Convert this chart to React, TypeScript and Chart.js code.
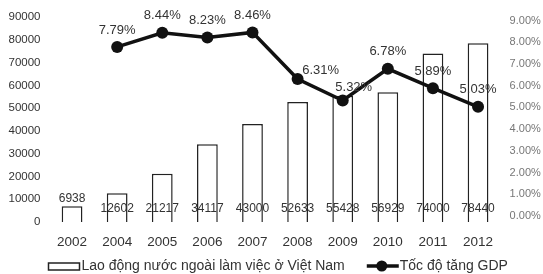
import React, { useEffect, useRef } from "react";
import { Chart, registerables } from "chart.js";

Chart.register(...registerables);

const years = ["2002", "2004", "2005", "2006", "2007", "2008", "2009", "2010", "2011", "2012"];
const workers = [6938, 12602, 21217, 34117, 43000, 52633, 55428, 56929, 74000, 78440];
const gdpGrowth: (number | null)[] = [null, 7.79, 8.44, 8.23, 8.46, 6.31, 5.32, 6.78, 5.89, 5.03];
const rightTicks = [0, 1, 2, 3, 4, 5, 6, 7, 8, 9];
const barLabel = "Lao động nước ngoài làm việc ở Việt Nam";
const lineLabel = "Tốc độ tăng GDP";

const FONT = '"Liberation Sans", Arial, sans-serif';

const labelOffsets: Record<number, [number, number]> = {
  5: [23, -9],
  6: [11, -13],
};

const labelPlugin = {
  id: "customLabels",
  afterDatasetsDraw(chart: any) {
    const ctx = chart.ctx;
    const yL = chart.scales.y;
    ctx.save();
    ctx.textAlign = "center";
    ctx.textBaseline = "middle";
    ctx.fillStyle = "#333";
    ctx.font = `12px ${FONT}`;
    const barMeta = chart.getDatasetMeta(0);
    barMeta.data.forEach((el: any, i: number) => {
      const v = workers[i];
      const y = v < 10000 ? el.y - 8 : yL.getPixelForValue(5700);
      ctx.fillText(String(v), el.x, y);
    });
    ctx.font = `13px ${FONT}`;
    const lineMeta = chart.getDatasetMeta(1);
    lineMeta.data.forEach((el: any, i: number) => {
      const v = gdpGrowth[i];
      if (v == null) return;
      const off = labelOffsets[i] || [0, -17];
      ctx.fillText(v.toFixed(2) + "%", el.x + off[0], el.y + off[1]);
    });
    ctx.restore();
  },
  afterDraw(chart: any) {
    const ctx = chart.ctx;
    const area = chart.chartArea;
    const cy = 266;
    ctx.save();
    ctx.font = `14px ${FONT}`;
    ctx.textBaseline = "middle";
    ctx.textAlign = "left";
    let x = area.left - 1;
    // bar legend box
    ctx.fillStyle = "#fff";
    ctx.strokeStyle = "#222";
    ctx.lineWidth = 1.5;
    ctx.fillRect(x, cy - 3, 31, 7);
    ctx.strokeRect(x, cy - 3, 31, 7);
    x += 33;
    ctx.fillStyle = "#333";
    ctx.fillText(chart.data.datasets[0].label, x, cy);
    x += ctx.measureText(chart.data.datasets[0].label).width + 22;
    // line legend
    ctx.strokeStyle = "#111";
    ctx.lineWidth = 3.5;
    ctx.beginPath();
    ctx.moveTo(x, cy);
    ctx.lineTo(x + 32, cy);
    ctx.stroke();
    ctx.fillStyle = "#111";
    ctx.beginPath();
    ctx.arc(x + 15, cy, 5.5, 0, Math.PI * 2);
    ctx.fill();
    x += 33;
    ctx.fillStyle = "#333";
    ctx.fillText(chart.data.datasets[1].label, x, cy);
    ctx.restore();
  },
};

export default function App() {
  const ref = useRef<HTMLCanvasElement>(null);
  useEffect(() => {
    document.body.style.margin = "0";
    const chart = new Chart(ref.current as HTMLCanvasElement, {
      data: {
        labels: years,
        datasets: [
          {
            type: "bar",
            label: barLabel,
            data: workers,
            backgroundColor: "#ffffff",
            borderColor: "#222",
            borderWidth: 1.5,
            barPercentage: 0.46,
            categoryPercentage: 1,
            yAxisID: "y",
            order: 1,
          },
          {
            type: "line",
            label: lineLabel,
            data: gdpGrowth,
            borderColor: "#111",
            backgroundColor: "#111",
            borderWidth: 3.5,
            pointRadius: 6,
            pointBackgroundColor: "#111",
            pointBorderWidth: 0,
            tension: 0,
            yAxisID: "y2",
            order: 0,
          },
        ],
      } as any,
      options: {
        responsive: true,
        maintainAspectRatio: false,
        animation: false,
        layout: { padding: { top: 17, left: 0, right: 0, bottom: 0 } },
        plugins: {
          legend: { display: false },
          tooltip: { enabled: false },
        },
        scales: {
          x: {
            offset: true,
            grid: { display: false, drawTicks: false },
            border: { display: false },
            ticks: { color: "#333", font: { family: FONT, size: 13.5 }, padding: 12 },
            afterFit: (s: any) => {
              s.height = 52;
            },
          },
          y: {
            position: "left",
            min: 0,
            max: 90000,
            grid: { display: false, drawTicks: false },
            border: { display: false },
            ticks: {
              stepSize: 10000,
              color: "#333",
              font: { family: FONT, size: 11.5 },
              padding: 9,
              callback: (v: any) => String(v),
            },
            afterFit: (s: any) => {
              s.width = 49.5;
            },
          },
          y2: {
            position: "right",
            min: -0.28,
            max: 9.17,
            grid: { display: false, drawTicks: false },
            border: { display: false },
            ticks: {
              color: "#777",
              font: { family: FONT, size: 11 },
              padding: 9,
              callback: (v: any) => Number(v).toFixed(2) + "%",
            },
            afterBuildTicks: (s: any) => {
              s.ticks = rightTicks.map((v) => ({ value: v }));
            },
            afterFit: (s: any) => {
              s.width = 42.4;
            },
          },
        },
      } as any,
      plugins: [labelPlugin],
    });
    return () => chart.destroy();
  }, []);
  return (
    <div style={{ position: "absolute", left: 0, top: 0, width: 543, height: 274 }}>
      <canvas ref={ref} />
    </div>
  );
}
